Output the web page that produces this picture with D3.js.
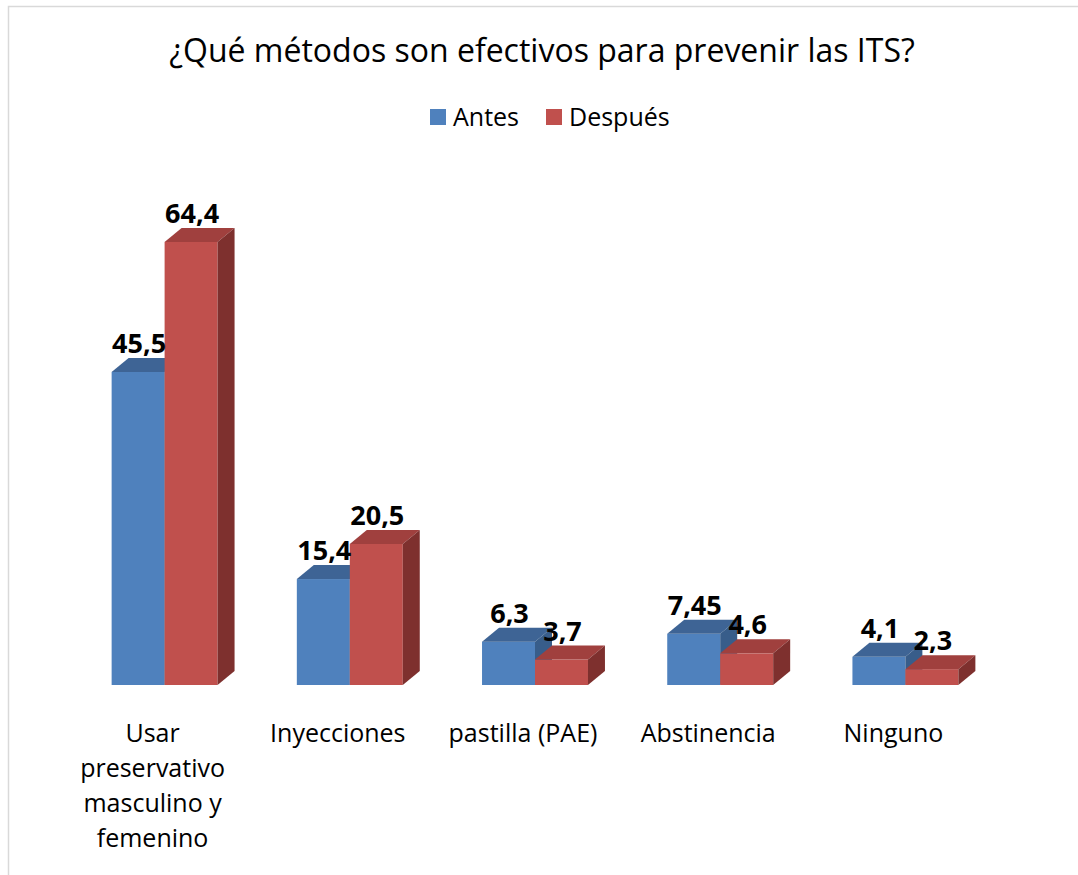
<!DOCTYPE html>
<html>
<head>
<meta charset="utf-8">
<script src="https://cdn.jsdelivr.net/npm/d3@7"></script>
<style>
  html, body { margin: 0; padding: 0; background: #fff; }
  svg { display: block; font-family: "Open Sans", "Noto Sans", sans-serif; }
</style>
</head>
<body>
<svg id="chart" width="1078" height="875"></svg>
<script>
const categories = [
  'Usar preservativo masculino y femenino',
  'Inyecciones',
  'pastilla (PAE)',
  'Abstinencia',
  'Ninguno'
];
const series = ['Antes', 'Después'];
const antes = [45.5, 15.4, 6.3, 7.45, 4.1];
const despues = [64.4, 20.5, 3.7, 4.6, 2.3];
const valueLabels = {
  'Antes': ['45,5', '15,4', '6,3', '7,45', '4,1'],
  'Después': ['64,4', '20,5', '3,7', '4,6', '2,3']
};

const colors = {
  'Antes': { front: '#4f81bd', top: '#3e6495', side: '#385d8a' },
  'Después': { front: '#c0504d', top: '#a0403e', side: '#7e302e' }
};

const svg = d3.select('#chart');
const depthX = 17, depthY = -14;

// frame
svg.append('rect')
  .attr('x', 8.5).attr('y', 6.5)
  .attr('width', 1200).attr('height', 1000)
  .attr('fill', 'none').attr('stroke', '#d9d9d9').attr('stroke-width', 1.5);

// title
svg.append('text')
  .attr('x', 542).attr('y', 62)
  .attr('text-anchor', 'middle')
  .attr('font-size', 32).attr('fill', '#000')
  .text('¿Qué métodos son efectivos para prevenir las ITS?');

// legend
const legend = svg.append('g');
const legendItems = [
  { name: 'Antes', x: 430 },
  { name: 'Después', x: 546 }
];
legendItems.forEach(d => {
  legend.append('rect')
    .attr('x', d.x).attr('y', 109)
    .attr('width', 16).attr('height', 16)
    .attr('fill', colors[d.name].front);
  legend.append('text')
    .attr('x', d.x + 23).attr('y', 126)
    .attr('font-size', 25).attr('fill', '#000')
    .text(d.name);
});

const x0 = d3.scaleBand()
  .domain(categories)
  .range([72, 998])
  .paddingInner(0.428)
  .paddingOuter(0.214);

const x1 = d3.scaleBand()
  .domain(series)
  .range([0, x0.bandwidth()]);

const y = d3.scaleLinear()
  .domain([0, 70])
  .range([685, 203.4]);

const rows = categories.map((c, i) => ({
  cat: c,
  bars: [
    { s: 'Antes', v: antes[i], label: valueLabels['Antes'][i] },
    { s: 'Después', v: despues[i], label: valueLabels['Después'][i] }
  ]
}));

const groups = svg.append('g').selectAll('g.cat')
  .data(rows)
  .join('g')
  .attr('class', 'cat')
  .attr('transform', d => `translate(${x0(d.cat)},0)`);

groups.selectAll('g.bar')
  .data(d => d.bars)
  .join('g')
  .attr('class', 'bar')
  .each(function(d) {
    const g = d3.select(this);
    const bx = x1(d.s), bw = x1.bandwidth();
    const top = y(d.v), base = y(0);
    const c = colors[d.s];
    g.append('rect')
      .attr('x', bx).attr('y', top)
      .attr('width', bw).attr('height', base - top)
      .attr('fill', c.front);
    g.append('path')
      .attr('d', `M${bx},${top}L${bx + depthX},${top + depthY}L${bx + bw + depthX},${top + depthY}L${bx + bw},${top}Z`)
      .attr('fill', c.top);
    g.append('path')
      .attr('d', `M${bx + bw},${top}L${bx + bw + depthX},${top + depthY}L${bx + bw + depthX},${base + depthY}L${bx + bw},${base}Z`)
      .attr('fill', c.side);
  });

// value labels drawn last so they sit above neighbouring bars
const labelLayer = svg.append('g');
rows.forEach(r => {
  r.bars.forEach(d => {
    labelLayer.append('text')
      .attr('x', x0(r.cat) + x1(d.s) + x1.bandwidth() / 2 + 1)
      .attr('y', y(d.v) - 19)
      .attr('text-anchor', 'middle')
      .attr('font-size', 27).attr('font-weight', 'bold').attr('fill', '#000')
      .text(d.label);
  });
});

// category labels with wrapping
const axisLayer = svg.append('g');
categories.forEach(c => {
  const cx = x0(c) + x0.bandwidth() / 2 - 12;
  const t = axisLayer.append('text')
    .attr('x', cx).attr('y', 742)
    .attr('text-anchor', 'middle')
    .attr('font-size', 25).attr('fill', '#000');
  const words = c.split(' ');
  let line = [];
  let tspan = t.append('tspan').attr('x', cx).attr('dy', 0);
  words.forEach(w => {
    line.push(w);
    tspan.text(line.join(' '));
    if (tspan.node().getComputedTextLength() > 175 && line.length > 1) {
      line.pop();
      tspan.text(line.join(' '));
      line = [w];
      tspan = t.append('tspan').attr('x', cx).attr('dy', 35).text(w);
    }
  });
});
</script>
</body>
</html>
